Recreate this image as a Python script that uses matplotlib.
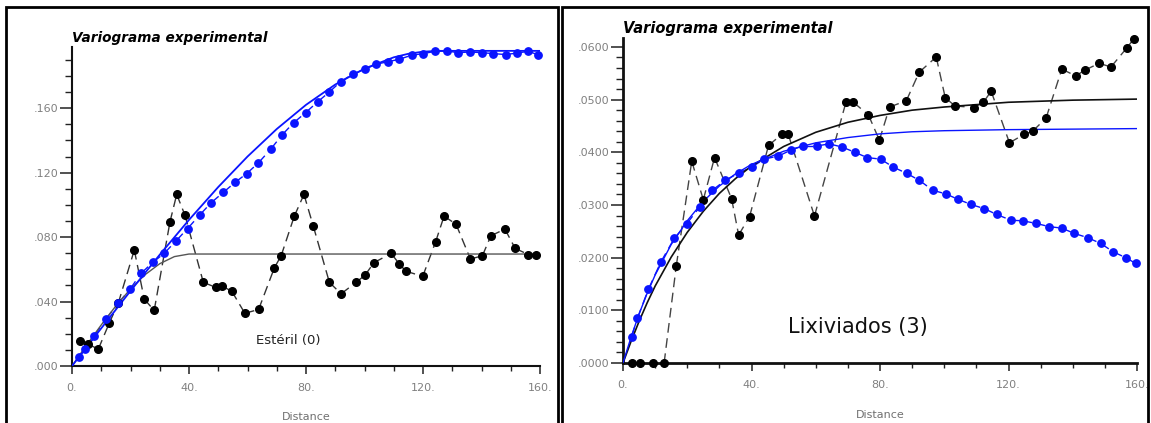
import matplotlib
matplotlib.use("Agg")
import matplotlib.pyplot as plt
from matplotlib.patches import Rectangle
from matplotlib.ticker import MultipleLocator

# --- Esteril (0): experimental variogram points ---
est_lag = [2.7, 5.4, 9.0, 12.8, 15.8, 21.3, 24.7, 28.1, 33.5, 35.8, 38.6, 44.9, 49.2, 51.2,
           54.6, 59.1, 63.8, 69.2, 71.5, 76.0, 79.3, 82.5, 88.0, 92.0, 97.1, 100.2, 103.2,
           109.1, 111.8, 114.1, 119.9, 124.3, 127.2, 131.3, 136.2, 140.3, 143.2, 148.0,
           151.5, 156.0, 158.6]
est_gam = [0.0153, 0.0136, 0.0105, 0.0269, 0.0389, 0.0720, 0.0415, 0.0345, 0.0895, 0.1065,
           0.0937, 0.0519, 0.0488, 0.0496, 0.0465, 0.0327, 0.0351, 0.0610, 0.0684, 0.0930,
           0.1065, 0.0868, 0.0519, 0.0448, 0.0519, 0.0564, 0.0641, 0.0699, 0.0636, 0.0589,
           0.0556, 0.0770, 0.0930, 0.0880, 0.0664, 0.0684, 0.0808, 0.0850, 0.0730, 0.0692,
           0.0692]
est_blue_lag = [2.5, 4.4, 7.6, 11.6, 15.8, 19.8, 23.6, 27.6, 31.5, 35.6, 39.5, 43.8, 47.6,
                51.7, 55.7, 59.7, 63.7, 67.9, 71.9, 75.8, 79.9, 84.0, 88.0, 91.8, 95.9, 100.2,
                103.9, 107.9, 111.9, 116.1, 120.1, 124.1, 128.1, 132.1, 136.1, 140.1, 144.1,
                148.3, 152.3, 156.0, 159.2]
est_blue_gam = [0.0058, 0.0105, 0.0188, 0.0291, 0.0390, 0.0476, 0.0575, 0.0643, 0.0699,
                0.0777, 0.0853, 0.0940, 0.1014, 0.1077, 0.1139, 0.1194, 0.1260, 0.1345,
                0.1436, 0.1510, 0.1573, 0.1640, 0.1701, 0.1764, 0.1811, 0.1842, 0.1873,
                0.1888, 0.1904, 0.1929, 0.1939, 0.1953, 0.1955, 0.1945, 0.1949, 0.1945,
                0.1939, 0.1933, 0.1943, 0.1953, 0.1933]
# fitted models
est_mod_blue_lag = [0, 10, 20, 30, 40, 50, 60, 70, 80, 90, 100, 110, 115, 120, 125, 160]
est_mod_blue_gam = [0, 0.0234, 0.0466, 0.0691, 0.0907, 0.1111, 0.1300, 0.1471, 0.1621,
                    0.1747, 0.1846, 0.1916, 0.1938, 0.1951, 0.1956, 0.1956]
est_mod_blk_lag = [0, 5, 10, 15, 20, 25, 30, 35, 40, 160]
est_mod_blk_gam = [0, 0.0130, 0.0255, 0.0373, 0.0478, 0.0567, 0.0635, 0.0679, 0.0695, 0.0695]

# --- Lixiviados (3) ---
lix_lag = [2.7, 5.3, 9.2, 12.8, 16.6, 21.4, 25.0, 28.5, 33.8, 36.0, 39.4, 45.3, 49.6, 51.4,
           59.6, 69.4, 71.7, 76.4, 79.8, 83.0, 88.2, 92.2, 97.5, 100.3, 103.3, 109.2, 112.2,
           114.6, 120.3, 124.8, 127.5, 131.7, 136.6, 140.9, 143.8, 148.2, 151.9, 156.8, 159.1]
lix_gam = [0, 0, 0, 0, 0.0185, 0.0383, 0.0310, 0.0390, 0.0312, 0.0243, 0.0278, 0.0413,
           0.0435, 0.0435, 0.0279, 0.0495, 0.0495, 0.0471, 0.0423, 0.0486, 0.0498, 0.0552,
           0.0581, 0.0504, 0.0488, 0.0485, 0.0495, 0.0516, 0.0418, 0.0434, 0.0440, 0.0465,
           0.0558, 0.0545, 0.0556, 0.0569, 0.0562, 0.0598, 0.0616]
lix_blue_lag = [2.7, 4.5, 7.9, 11.8, 16.0, 19.8, 24.0, 27.8, 31.9, 36.1, 40.1, 43.9, 48.4,
                52.2, 55.9, 60.3, 64.2, 68.2, 72.2, 76.0, 80.2, 84.1, 88.3, 92.2, 96.4,
                100.5, 104.2, 108.3, 112.5, 116.3, 120.8, 124.4, 128.6, 132.6, 136.6, 140.5,
                144.6, 148.7, 152.6, 156.5, 159.6]
lix_blue_gam = [0.0050, 0.0085, 0.0140, 0.0192, 0.0237, 0.0264, 0.0297, 0.0328, 0.0347,
                0.0361, 0.0372, 0.0387, 0.0393, 0.0404, 0.0412, 0.0412, 0.0416, 0.0410,
                0.0400, 0.0390, 0.0387, 0.0372, 0.0360, 0.0347, 0.0328, 0.0321, 0.0311,
                0.0301, 0.0293, 0.0282, 0.0271, 0.0270, 0.0265, 0.0259, 0.0256, 0.0246,
                0.0238, 0.0227, 0.0211, 0.0200, 0.0189]
lix_mod_lag = [0, 2.5, 5, 7.5, 10, 15, 20, 25, 30, 35, 40, 50, 60, 70, 80, 90, 100, 120, 140, 160]
lix_mod_blk_gam = [0, 0.0041, 0.0079, 0.0114, 0.0146, 0.0201, 0.0248, 0.0288, 0.0322, 0.0350,
                   0.0374, 0.0411, 0.0438, 0.0457, 0.0470, 0.0480, 0.0486, 0.0495, 0.0499, 0.0501]
lix_mod_blue_gam = [0, 0.0049, 0.0093, 0.0132, 0.0167, 0.0225, 0.0270, 0.0307, 0.0336, 0.0359,
                    0.0377, 0.0402, 0.0418, 0.0428, 0.0435, 0.0439, 0.0441, 0.0443, 0.0444, 0.0445]

x_ticks = [0, 40, 80, 120, 160]
x_labels = ["0.", "40.", "80.", "120.", "160."]
est_yticks = [0, 0.04, 0.08, 0.12, 0.16]
est_ylabels = [".000", ".040", ".080", ".120", ".160"]
lix_yticks = [0, 0.01, 0.02, 0.03, 0.04, 0.05, 0.06]
lix_ylabels = [".0000", ".0100", ".0200", ".0300", ".0400", ".0500", ".0600"]

BLUE = "#0a14ff"
W, H = 1151, 423
fig = plt.figure(figsize=(W / 100, H / 100), dpi=100)


def connect(ax, xs, ys, color, lw=1.0):
    # each pair of neighbours joined by its own dashed segment
    for i in range(len(xs) - 1):
        ax.plot([xs[i], xs[i + 1]], [ys[i], ys[i + 1]], color=color, lw=lw,
                linestyle=(0, (7, 4)), clip_on=False, zorder=2)


def style_axes(ax, ymax, yticks, ylabels, yminor, spine_lw, title_size):
    ax.set_xlim(0, 160)
    ax.set_ylim(0, ymax)
    for s in ("top", "right"):
        ax.spines[s].set_visible(False)
    for s in ("left", "bottom"):
        ax.spines[s].set_linewidth(spine_lw)
        ax.spines[s].set_color("#111111")
    ax.set_xticks(x_ticks)
    ax.set_xticklabels(x_labels)
    ax.set_yticks(yticks)
    ax.set_yticklabels(ylabels)
    ax.xaxis.set_minor_locator(MultipleLocator(10))
    ax.yaxis.set_minor_locator(MultipleLocator(yminor))
    ax.tick_params(axis="y", which="major", length=9, width=1.1, color="#222222",
                   labelsize=8, labelcolor="#808080", pad=1)
    ax.tick_params(axis="y", which="minor", length=5, width=1.0, color="#222222")
    ax.tick_params(axis="x", which="major", length=6, width=1.1, color="#222222",
                   labelsize=8, labelcolor="#808080", pad=6)
    ax.tick_params(axis="x", which="minor", length=3.5, width=1.0, color="#222222")
    ax.text(0, 1.005, "Variograma experimental", transform=ax.transAxes,
            ha="left", va="bottom", fontsize=title_size, fontweight="bold", style="italic",
            family="DejaVu Sans")
    ax.text(80, -0.16 * ymax, "Distance", ha="center", va="center", fontsize=8,
            color="#707070", clip_on=False)


# left panel
ax1 = fig.add_axes([72 / W, 1 - 366 / H, 468 / W, 319 / H])
ax1.plot(est_mod_blk_lag, est_mod_blk_gam, color="#555555", lw=1.0, zorder=3)
ax1.plot(est_mod_blue_lag, est_mod_blue_gam, color=BLUE, lw=1.3, zorder=3)
connect(ax1, est_lag, est_gam, "#333333")
connect(ax1, est_blue_lag, est_blue_gam, BLUE)
ax1.plot(est_lag, est_gam, "o", color="black", ms=5.5, clip_on=False, zorder=4)
ax1.plot(est_blue_lag, est_blue_gam, "o", color=BLUE, ms=5.3, clip_on=False, zorder=5)
style_axes(ax1, 0.198, est_yticks, est_ylabels, 0.01, 1.5, 9.8)
ax1.text(74, 0.016, "Estéril (0)", ha="center", va="center", fontsize=9.5, color="#222222")

# right panel
ax2 = fig.add_axes([623 / W, 1 - 363 / H, 514 / W, 325 / H])
ax2.plot(lix_mod_lag, lix_mod_blk_gam, color="#111111", lw=1.2, zorder=3)
ax2.plot(lix_mod_lag, lix_mod_blue_gam, color=BLUE, lw=1.0, zorder=3)
connect(ax2, lix_lag, lix_gam, "#444444")
connect(ax2, lix_blue_lag, lix_blue_gam, BLUE)
ax2.plot(lix_lag, lix_gam, "o", color="black", ms=5.5, clip_on=False, zorder=4)
ax2.plot(lix_blue_lag, lix_blue_gam, "o", color=BLUE, ms=5.3, clip_on=False, zorder=5)
style_axes(ax2, 0.0617, lix_yticks, lix_ylabels, 0.002, 2.0, 10.5)
ax2.text(73, 0.0068, "Lixiviados (3)", ha="center", va="center", fontsize=15, color="#111111")

# panel frames
fig.add_artist(Rectangle((6 / W, -0.05), 552 / W, 1.05 - 7 / H, transform=fig.transFigure,
                         fill=False, lw=2, edgecolor="black"))
fig.add_artist(Rectangle((562 / W, -0.05), 586 / W, 1.05 - 7 / H, transform=fig.transFigure,
                         fill=False, lw=2, edgecolor="black"))

fig.savefig("out.png", dpi=100)
plt.close(fig)
